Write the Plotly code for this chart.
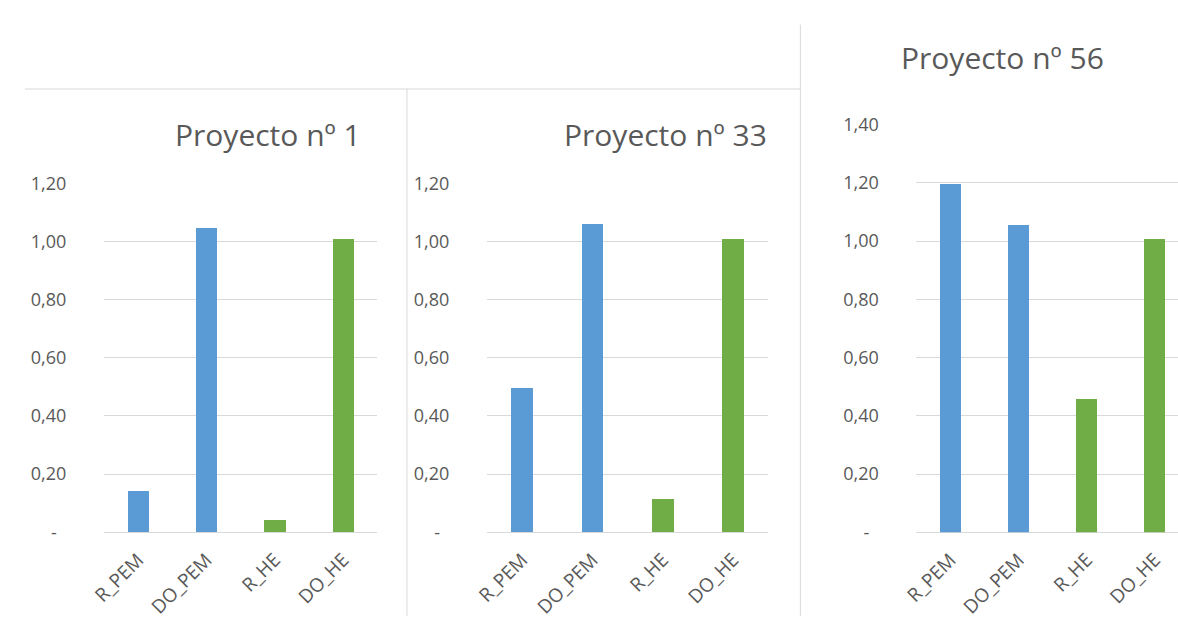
import plotly.graph_objects as go

W, H = 1178, 627

categories = ["R_PEM", "DO_PEM", "R_HE", "DO_HE"]
proyecto_1 = [0.143, 1.045, 0.042, 1.008]
proyecto_33 = [0.495, 1.060, 0.115, 1.008]
proyecto_56 = [1.198, 1.055, 0.460, 1.008]
titles = ["Proyecto nº 1", "Proyecto nº 33", "Proyecto nº 56"]
bar_colors = ["#5B9BD5", "#5B9BD5", "#70AD47", "#70AD47"]

ticks_12 = [0, 0.2, 0.4, 0.6, 0.8, 1.0, 1.2]
ticks_14 = [0, 0.2, 0.4, 0.6, 0.8, 1.0, 1.2, 1.4]


def fmt(v):
    if v == 0:
        return "-\u00a0\u00a0"
    return f"{v:.2f}".replace(".", ",")


def px(x):
    return x / W


def py(y):
    return (H - y) / H


FONT = "Open Sans"
TXT = "#595959"
GRID = "#D9D9D9"

fig = go.Figure()

series = [proyecto_1, proyecto_33, proyecto_56]
for i, vals in enumerate(series):
    ax = "" if i == 0 else str(i + 1)
    fig.add_trace(go.Bar(
        x=list(range(len(categories))), y=vals,
        marker=dict(color=bar_colors, line=dict(width=0)),
        width=0.31, xaxis="x" + ax, yaxis="y" + ax,
        showlegend=False, hoverinfo="skip",
    ))

panels = [
    dict(x=(90, 367), xr=[-0.5, 3.5], ytop=177, yr=[0, 1.2], ticks=ticks_12),
    dict(x=(478, 763), xr=[-0.5, 3.5], ytop=177, yr=[0, 1.2], ticks=ticks_12),
    dict(x=(913, 1178), xr=[-0.5, -0.5 + (1178 - 913) / 69.0], ytop=116, yr=[0, 1.4], ticks=ticks_14),
]

layout = dict(
    width=W, height=H, margin=dict(l=0, r=0, t=0, b=0),
    paper_bgcolor="white", plot_bgcolor="white",
    font=dict(family=FONT, color=TXT, size=18),
    bargap=0,
)
for i, p in enumerate(panels):
    ax = "" if i == 0 else str(i + 1)
    layout["xaxis" + ax] = dict(
        domain=[px(p["x"][0]), px(p["x"][1])], range=p["xr"],
        tickmode="array", tickvals=list(range(len(categories))), ticktext=categories,
        tickangle=-45, showgrid=False, zeroline=False, showline=False,
        ticks="outside", ticklen=8, tickcolor="rgba(0,0,0,0)",
        tickfont=dict(family=FONT, color=TXT, size=19),
        anchor="y" + ax, fixedrange=True,
    )
    layout["yaxis" + ax] = dict(
        domain=[py(540), py(p["ytop"])], range=p["yr"],
        tickmode="array", tickvals=p["ticks"], ticktext=[fmt(v) for v in p["ticks"]],
        showgrid=True, gridcolor=GRID, gridwidth=1,
        zeroline=True, zerolinecolor=GRID, zerolinewidth=1, showline=False,
        ticks="outside", ticklen=33, tickcolor="rgba(0,0,0,0)",
        tickfont=dict(family=FONT, color=TXT, size=18),
        anchor="x" + ax, fixedrange=True,
    )

layout["annotations"] = [
    dict(text=titles[0], x=px(352), y=py(126), xref="paper", yref="paper",
         xanchor="right", yanchor="middle", showarrow=False,
         font=dict(family=FONT, size=30, color=TXT)),
    dict(text=titles[1], x=px(764), y=py(126), xref="paper", yref="paper",
         xanchor="right", yanchor="middle", showarrow=False,
         font=dict(family=FONT, size=30, color=TXT)),
    dict(text=titles[2], x=px(1105), y=py(46), xref="paper", yref="paper",
         xanchor="right", yanchor="middle", showarrow=False,
         font=dict(family=FONT, size=30, color=TXT)),
]

BORDER = "#D9D9D9"
layout["shapes"] = [
    dict(type="line", xref="paper", yref="paper", x0=px(10), x1=px(796), y0=py(79), y1=py(79),
         line=dict(color=BORDER, width=1)),
    dict(type="line", xref="paper", yref="paper", x0=px(397), x1=px(397), y0=py(79), y1=py(627),
         line=dict(color=BORDER, width=1)),
    dict(type="line", xref="paper", yref="paper", x0=px(795.5), x1=px(795.5), y0=py(12), y1=py(627),
         line=dict(color=BORDER, width=1)),
]

fig.update_layout(**layout)
fig.write_html("out.html")
